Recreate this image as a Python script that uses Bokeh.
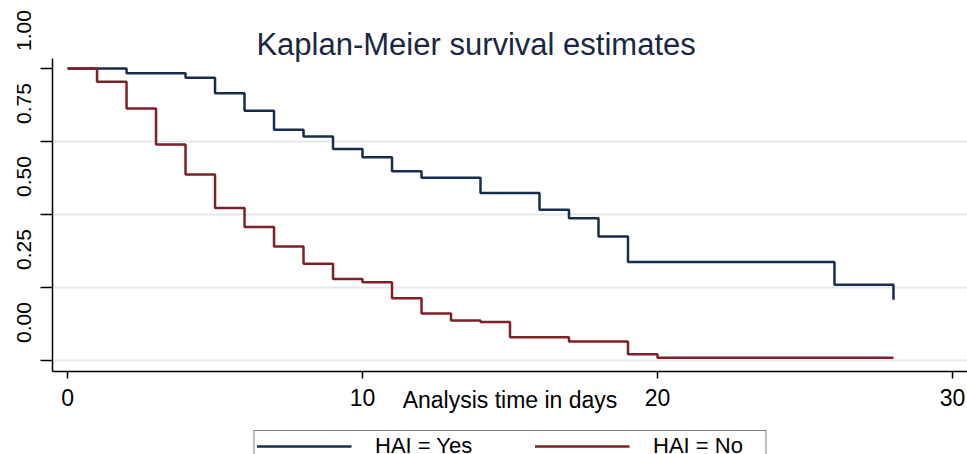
from bokeh.plotting import figure
from bokeh.models import (Range1d, LinearAxis, FixedTicker, Label, Legend,
                          LegendItem, NumeralTickFormatter)
from bokeh.layouts import column
from bokeh.embed import file_html
from bokeh.resources import INLINE

# ---- data ----
time_yes = [0, 2, 4, 5, 6, 7, 8, 9, 10, 11, 12, 14, 16, 17, 18, 19, 26, 28]
surv_yes = [1.0, 0.984, 0.968, 0.915, 0.855, 0.790, 0.767, 0.724, 0.696,
            0.648, 0.626, 0.574, 0.516, 0.487, 0.425, 0.337, 0.259, 0.208]
time_no = [0, 1, 2, 3, 4, 5, 6, 7, 8, 9, 10, 11, 12, 13, 14, 15, 17, 19, 20, 28]
surv_no = [1.0, 0.955, 0.863, 0.740, 0.637, 0.522, 0.457, 0.390, 0.331, 0.279,
           0.268, 0.213, 0.161, 0.137, 0.132, 0.080, 0.065, 0.021, 0.009, 0.009]
y_ticks = [0, 0.25, 0.5, 0.75, 1.0]
y_grid_ticks = [0, 0.25, 0.5, 0.75]
x_ticks = [0, 10, 20, 30]
title_text = "Kaplan-Meier survival estimates"
x_title = "Analysis time in days"
series_names = ["HAI = Yes", "HAI = No"]

# ---- style ----
BLUE = "#172c4e"
RED = "#7d2027"
GRID = "#e2e9ed"
FONT = "Liberation Sans"
Y0, Y1 = -0.0377, 1.1986
X0, X1 = -0.51, 30.51
LABEL_SHIFT = 0.13

p = figure(width=967, height=427, x_range=Range1d(X0, X1), y_range=Range1d(Y0, Y1),
           output_backend="svg", toolbar_location=None, title=None,
           min_border_left=52, min_border_right=0, min_border_top=10,
           min_border_bottom=56)
p.outline_line_color = None
p.background_fill_color = "white"
p.border_fill_color = "white"

# main y axis: line + ticks only
ya = p.yaxis[0]
ya.ticker = FixedTicker(ticks=y_ticks)
ya.bounds = (Y0, 1.034)
ya.major_tick_out = 12
ya.major_tick_in = 0
ya.minor_tick_line_color = None
ya.major_label_text_font_size = "0px"
ya.major_label_standoff = 0
ya.axis_line_width = 1.5
ya.major_tick_line_width = 1.5
ya.axis_line_color = "black"
ya.major_tick_line_color = "black"

# label-only y axis (labels sit offset along the axis, as in the reference)
p.extra_y_ranges = {"lab": Range1d(Y0 - LABEL_SHIFT, Y1 - LABEL_SHIFT)}
la = LinearAxis(y_range_name="lab", ticker=FixedTicker(ticks=y_ticks),
                formatter=NumeralTickFormatter(format="0.00"))
la.axis_line_color = None
la.major_tick_line_color = None
la.minor_tick_line_color = None
la.major_tick_out = 0
la.major_tick_in = 0
la.major_label_orientation = "vertical"
la.major_label_text_font_size = "21px"
la.major_label_text_font = FONT
la.major_label_text_color = "black"
la.major_label_standoff = 9
p.add_layout(la, "left")

# x axis
xa = p.xaxis[0]
xa.ticker = FixedTicker(ticks=x_ticks)
xa.major_tick_out = 7
xa.major_tick_in = 0
xa.minor_tick_line_color = None
xa.axis_line_width = 1.5
xa.major_tick_line_width = 1.5
xa.axis_line_color = "black"
xa.major_tick_line_color = "black"
xa.major_label_text_font_size = "23px"
xa.major_label_text_font = FONT
xa.major_label_text_color = "black"
xa.major_label_standoff = 10
xa.axis_label = x_title
xa.axis_label_text_font_size = "23px"
xa.axis_label_text_font = FONT
xa.axis_label_text_font_style = "normal"
xa.axis_label_text_color = "black"
xa.axis_label_standoff = -22

# grid
p.xgrid.visible = False
p.ygrid.ticker = FixedTicker(ticks=y_grid_ticks)
p.ygrid.grid_line_color = GRID
p.ygrid.grid_line_width = 2

# curves
r_yes = p.step(time_yes, surv_yes, mode="after", line_color=BLUE, line_width=2.5)
r_no = p.step(time_no, surv_no, mode="after", line_color=RED, line_width=2.5)

# title
p.add_layout(Label(x=13.85, y=1.082, text=title_text, text_align="center",
                   text_baseline="alphabetic", text_font_size="31px",
                   text_font=FONT, text_color="#1a2744"))

# legend strip (its box is cut off by the bottom edge, as in the reference);
# the strip's view is set away from the data so only the legend shows
q = figure(width=967, height=27, x_range=Range1d(-200, -199), y_range=Range1d(0, 1),
           output_backend="svg", toolbar_location=None, title=None,
           x_axis_type=None, y_axis_type=None, min_border=0)
q.outline_line_color = None
q.grid.visible = False
q.background_fill_color = "white"
q.border_fill_color = "white"
k_yes = q.step(time_yes, surv_yes, mode="after", line_color=BLUE, line_width=2.5)
k_no = q.step(time_no, surv_no, mode="after", line_color=RED, line_width=2.5)
legend = Legend(items=[LegendItem(label=series_names[0], renderers=[k_yes]),
                       LegendItem(label=series_names[1], renderers=[k_no])],
                orientation="horizontal", location="top_center",
                padding=2, spacing=49, margin=3,
                glyph_width=95, glyph_height=16, label_standoff=24,
                label_width=110, label_height=16,
                label_text_font=FONT, label_text_font_size="22px",
                label_text_line_height=0.8,
                label_text_color="black",
                border_line_color="black", border_line_width=1.5,
                background_fill_color="white", background_fill_alpha=1.0)
q.add_layout(legend)

layout = column(p, q, spacing=0)
open("out.html", "w").write(file_html(layout, INLINE))
